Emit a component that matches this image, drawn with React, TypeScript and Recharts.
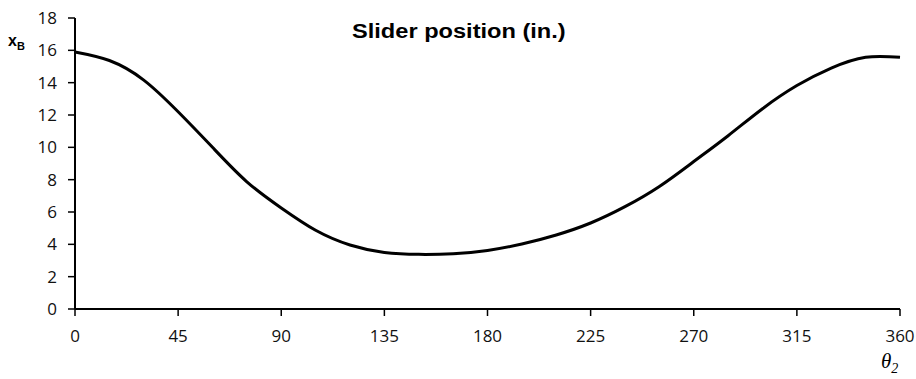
import { LineChart, Line, XAxis, YAxis } from 'recharts';

const angles = [0, 15, 30, 45, 60, 75, 90, 105, 120, 135, 150, 165, 180, 195, 210, 225, 240, 255, 270, 285, 300, 315, 330, 345, 360];
const sliderPos = [15.9, 15.37, 14.16, 12.2, 10.0, 7.87, 6.25, 4.87, 3.96, 3.5, 3.38, 3.42, 3.62, 4.02, 4.58, 5.32, 6.33, 7.58, 9.12, 10.72, 12.39, 13.82, 14.9, 15.57, 15.57];

const xTicks = [0, 45, 90, 135, 180, 225, 270, 315, 360];
const yTicks = [0, 2, 4, 6, 8, 10, 12, 14, 16, 18];

const data = angles.map((a, i) => ({ theta: a, xb: sliderPos[i] }));

const tickFont = { fontFamily: '"Open Sans", "Noto Sans", sans-serif', fontSize: 17, fill: '#111' };

export default function App() {
  return (
    <div style={{ position: 'absolute', left: 0, top: 0, width: 916, height: 379, background: '#fff', overflow: 'hidden' }}>
      <LineChart width={916} height={379} data={data} margin={{ top: 18, right: 16, bottom: 40, left: 0 }}>
        <XAxis
          dataKey="theta"
          type="number"
          domain={[0, 360]}
          ticks={xTicks}
          height={30}
          axisLine={{ stroke: '#000', strokeWidth: 2 }}
          tickLine={{ stroke: '#000', strokeWidth: 1.5 }}
          tickSize={7}
          tickMargin={14}
          tick={tickFont}
        />
        <YAxis
          type="number"
          domain={[0, 18]}
          ticks={yTicks}
          width={75}
          axisLine={{ stroke: '#000', strokeWidth: 2 }}
          tickLine={{ stroke: '#000', strokeWidth: 1.5 }}
          tickSize={7}
          tickMargin={11}
          tick={tickFont}
        />
        <Line
          dataKey="xb"
          type="natural"
          stroke="#000"
          strokeWidth={3}
          dot={false}
          isAnimationActive={false}
        />
      </LineChart>
      <div
        style={{
          position: 'absolute',
          left: 352,
          top: 20,
          fontFamily: '"Liberation Sans", Arial, sans-serif',
          fontWeight: 'bold',
          fontSize: 20,
          whiteSpace: 'nowrap',
          transform: 'scaleX(1.18)',
          transformOrigin: 'left top',
        }}
      >
        Slider position (in.)
      </div>
      <div style={{ position: 'absolute', left: 8, top: 32, fontFamily: '"Liberation Sans", Arial, sans-serif', fontWeight: 'bold', fontSize: 16 }}>
        x<sub style={{ fontSize: 11, fontWeight: 'bold' }}>B</sub>
      </div>
      <div style={{ position: 'absolute', left: 881, top: 350, lineHeight: '22px', fontFamily: '"Liberation Serif", "DejaVu Serif", serif', fontStyle: 'italic', fontSize: 21 }}>
        θ<sub style={{ fontSize: 14, lineHeight: 0 }}>2</sub>
      </div>
    </div>
  );
}
